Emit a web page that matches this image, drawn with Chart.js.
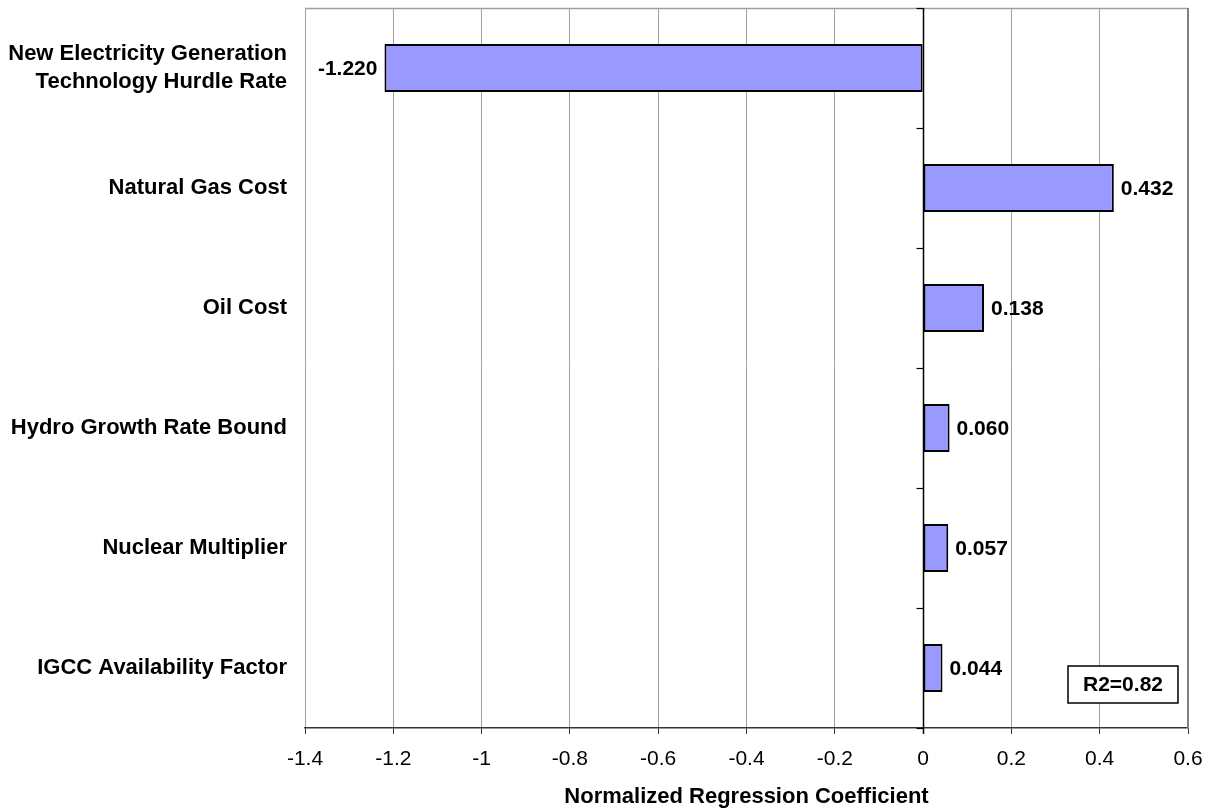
<!DOCTYPE html>
<html>
<head>
<meta charset="utf-8">
<script src="https://cdn.jsdelivr.net/npm/chart.js@4/dist/chart.umd.min.js"></script>
<style>
  html, body { margin: 0; padding: 0; background: #fff; }
  #wrap { width: 1211px; height: 810px; }
</style>
</head>
<body>
<div id="wrap"><canvas id="regChart" width="1211" height="810"></canvas></div>
<script>
// Datos del gráfico
const categories = [
    ['New Electricity Generation', 'Technology Hurdle Rate'],
    'Natural Gas Cost',
    'Oil Cost',
    'Hydro Growth Rate Bound',
    'Nuclear Multiplier',
    'IGCC Availability Factor'
];
const coefficients = [-1.220, 0.432, 0.138, 0.060, 0.057, 0.044];
const xTicks = [-1.4, -1.2, -1, -0.8, -0.6, -0.4, -0.2, 0, 0.2, 0.4, 0.6];
const axisTitle = 'Normalized Regression Coefficient';
const r2Text = 'R2=0.82';

const FONT = "'Liberation Sans', Arial, sans-serif";

// Etiquetas de valor al final de cada barra
const valueLabels = {
    id: 'valueLabels',
    afterDatasetsDraw(chart) {
        const ctx = chart.ctx;
        const meta = chart.getDatasetMeta(0);
        ctx.save();
        ctx.font = 'bold 21px ' + FONT;
        ctx.fillStyle = '#000';
        ctx.textBaseline = 'middle';
        meta.data.forEach((bar, i) => {
            const v = coefficients[i];
            const txt = v.toFixed(3);
            if (v < 0) {
                ctx.textAlign = 'right';
                ctx.fillText(txt, bar.x - 7, bar.y + 1);
            } else {
                ctx.textAlign = 'left';
                ctx.fillText(txt, bar.x + 7, bar.y + 1);
            }
        });
        ctx.restore();
    }
};

// Marco, eje en cero y recuadro R2
const frameAndAxis = {
    id: 'frameAndAxis',
    beforeDatasetsDraw(chart) {
        const { ctx, chartArea: a } = chart;
        ctx.save();
        ctx.strokeStyle = '#a0a0a0';
        ctx.lineWidth = 1.5;
        ctx.beginPath();
        ctx.moveTo(a.left, a.top + 0.5);
        ctx.lineTo(a.right, a.top + 0.5);
        ctx.stroke();
        ctx.strokeStyle = '#808080';
        ctx.lineWidth = 2;
        ctx.beginPath();
        ctx.moveTo(a.right, a.top);
        ctx.lineTo(a.right, a.bottom);
        ctx.stroke();
        ctx.restore();
    },
    afterDatasetsDraw(chart) {
        const { ctx, chartArea: a, scales } = chart;
        const x0 = Math.round(scales.x.getPixelForValue(0)) + 0.5;
        ctx.save();
        ctx.strokeStyle = '#000';
        ctx.lineWidth = 1.5;
        ctx.beginPath();
        ctx.moveTo(x0, a.top);
        ctx.lineTo(x0, a.bottom + 6);
        ctx.stroke();
        // marcas entre categorías
        const n = categories.length;
        const bounds = [a.top];
        for (let i = 0; i < n - 1; i++) {
            bounds.push((scales.y.getPixelForValue(i) + scales.y.getPixelForValue(i + 1)) / 2);
        }
        bounds.push(a.bottom);
        ctx.lineWidth = 1.2;
        bounds.forEach(y => {
            ctx.beginPath();
            ctx.moveTo(x0 - 7, Math.round(y) + 0.5);
            ctx.lineTo(x0, Math.round(y) + 0.5);
            ctx.stroke();
        });
        // recuadro R2
        ctx.font = 'bold 21px ' + FONT;
        const w = 110, h = 37;
        const bx = a.right - 10 - w, by = a.bottom - 25 - h;
        ctx.fillStyle = '#fff';
        ctx.fillRect(bx, by, w, h);
        ctx.strokeStyle = '#000';
        ctx.lineWidth = 1.5;
        ctx.strokeRect(bx, by, w, h);
        ctx.fillStyle = '#000';
        ctx.textAlign = 'center';
        ctx.textBaseline = 'middle';
        ctx.fillText(r2Text, bx + w / 2, by + h / 2 + 1);
        ctx.restore();
    }
};

function createRegressionChart() {
    const ctx = document.getElementById('regChart').getContext('2d');
    new Chart(ctx, {
        type: 'bar',
        data: {
            labels: categories,
            datasets: [{
                data: coefficients,
                backgroundColor: '#9999ff',
                borderColor: '#000',
                borderWidth: 2,
                borderSkipped: false,
                barPercentage: 0.4,
                categoryPercentage: 1.0
            }]
        },
        options: {
            indexAxis: 'y',
            responsive: false,
            animation: false,
            layout: { padding: { top: 8, right: 23, left: 0, bottom: 0 } },
            plugins: {
                legend: { display: false },
                tooltip: { enabled: false }
            },
            scales: {
                x: {
                    min: -1.4,
                    max: 0.6,
                    afterBuildTicks: s => { s.ticks = xTicks.map(v => ({ value: v })); },
                    afterFit: s => { s.height = 82; s.paddingLeft = 0; s.paddingRight = 0; },
                    grid: {
                        color: '#a0a0a0',
                        lineWidth: 1,
                        tickColor: '#333',
                        tickLength: 6,
                        drawTicks: true
                    },
                    border: { display: true, color: '#333', width: 1.5 },
                    ticks: {
                        padding: 13,
                        color: '#000',
                        font: { family: FONT, size: 21 },
                        maxRotation: 0,
                        callback: v => String(Number(Number(v).toFixed(1)))
                    },
                    title: {
                        display: true,
                        text: axisTitle,
                        color: '#000',
                        font: { family: FONT, size: 22, weight: 'bold' },
                        padding: { top: 0, bottom: 0 }
                    }
                },
                y: {
                    afterFit: s => { s.width = 305; s.paddingTop = 0; s.paddingBottom = 0; },
                    grid: { display: false, drawTicks: false },
                    border: { display: false },
                    ticks: {
                        padding: 18,
                        color: '#000',
                        font: { family: FONT, size: 22, weight: 'bold', lineHeight: 1.25 }
                    }
                }
            }
        },
        plugins: [frameAndAxis, valueLabels]
    });
}

document.addEventListener('DOMContentLoaded', createRegressionChart);
</script>
</body>
</html>
